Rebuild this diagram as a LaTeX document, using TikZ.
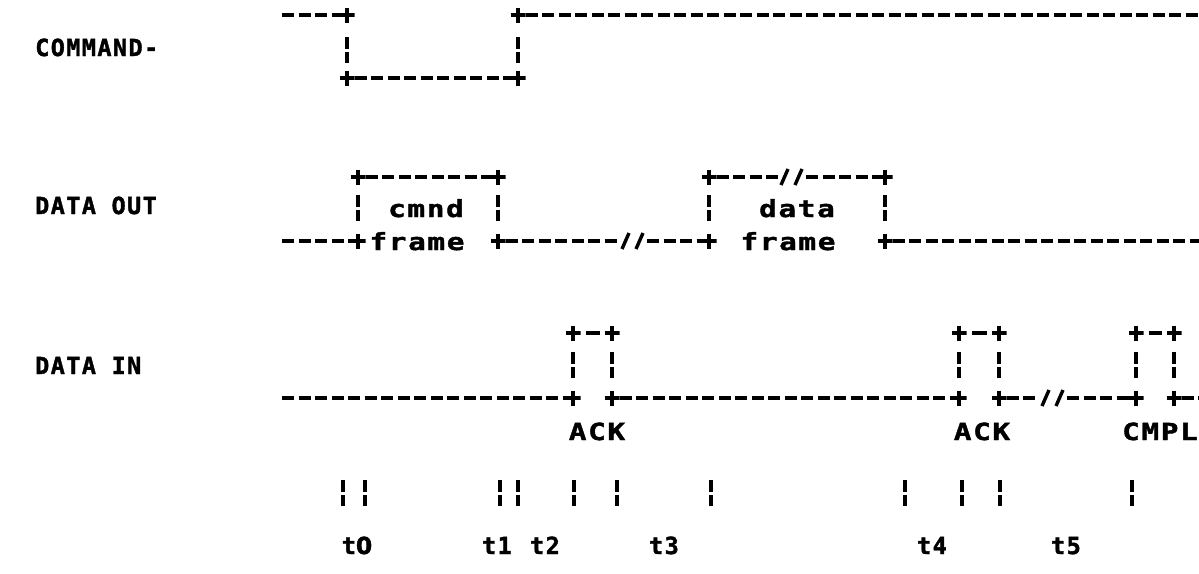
\documentclass[tikz,border=0pt]{standalone}
\usepackage{fontspec}
\newfontfamily\dm[LetterSpace=6, BoldFeatures={FakeBold=1.6}]{DejaVu Sans Mono}
\newfontfamily\dw[LetterSpace=7, BoldFeatures={FakeBold=1.6, FakeStretch=1.25}]{DejaVu Sans Mono}
\newfontfamily\dz[BoldFeatures={FakeBold=1.6}]{DejaVu Sans}
\begin{document}
\begin{tikzpicture}[x=1pt,y=-1pt,
  lbl/.style={inner sep=0pt, font=\dm\bfseries\fontsize{23.5}{23.5}\selectfont},
  wide/.style={inner sep=0pt, font=\dw\bfseries\fontsize{23.5}{23.5}\selectfont},
  sig/.style={line width=3.3pt, dash pattern=on 12pt off 4.5pt},
  link/.style={line width=3.3pt, shorten <=5pt, shorten >=5pt},
  cross/.style={minimum size=15pt, inner sep=0pt, outer sep=0pt,
    path picture={\draw[line width=4.2pt] (path picture bounding box.west) -- (path picture bounding box.east)
      (path picture bounding box.north) -- (path picture bounding box.south);}},
  brk/.style={minimum width=4pt, minimum height=26pt, inner sep=0pt,
    path picture={\fill (path picture bounding box.north west) rectangle ([yshift=-12pt]path picture bounding box.north east);
      \fill ([yshift=11pt]path picture bounding box.south west) rectangle (path picture bounding box.south east);}},
  slash/.style={minimum width=28pt, minimum height=22pt, inner sep=0pt,
    path picture={\draw[line width=3.4pt] ([xshift=-11pt,yshift=-8pt]path picture bounding box.center) -- ([xshift=-4pt,yshift=8pt]path picture bounding box.center)
      ([xshift=3pt,yshift=-8pt]path picture bounding box.center) -- ([xshift=10pt,yshift=8pt]path picture bounding box.center);}}
]
\fill[white] (0,0) rectangle (1199,573);
\useasboundingbox (0,0) rectangle (1199,573);

% signal names
\node[lbl, anchor=base west] (lcmd) at (35,56) {COMMAND-};
\node[lbl, anchor=base west] (lout) at (35,214) {DATA OUT};
\node[lbl, anchor=base west] (lin) at (35,374) {DATA IN};

% ---------- COMMAND- ----------
\coordinate (cs) at (282,15);
\coordinate (ce) at (1199,15);
\node[cross] (a1) at (347,15) {};
\node[cross] (a2) at (347,78) {};
\node[cross] (a3) at (518,78) {};
\node[cross] (a4) at (518,15) {};
\node[brk] (ab1) at (347,50) {};
\node[brk] (ab2) at (518,50) {};
\draw[sig] (cs) -- (a1);
\draw[sig] (a2) -- (a3);
\draw[sig] (a4) -- (ce);

% ---------- DATA OUT ----------
\coordinate (ds) at (282,241);
\coordinate (de) at (1199,241);
\node[cross] (b1) at (358,241) {};
\node[cross] (b2) at (358,177) {};
\node[cross] (b3) at (498,177) {};
\node[cross] (b4) at (498,241) {};
\node[cross] (b5) at (709,241) {};
\node[cross] (b6) at (709,177) {};
\node[cross] (b7) at (885,177) {};
\node[cross] (b8) at (885,241) {};
\node[brk] (bb1) at (358,208) {};
\node[brk] (bb2) at (498,208) {};
\node[brk] (bb3) at (709,208) {};
\node[brk] (bb4) at (885,208) {};
\node[slash] (s1) at (633,241) {};
\node[slash] (s2) at (792,177) {};
\draw[sig] (ds) -- (b1);
\draw[sig] (b2) -- (b3);
\draw[sig] (b4) -- (s1);
\draw[sig] (s1) -- (b5);
\draw[sig] (b6) -- (s2);
\draw[sig] (s2) -- (b7);
\draw[sig] (b8) -- (de);
\node[wide, anchor=base] (cmnd) at (426,217) {cmnd};
\node[wide, anchor=base] (fr1) at (417,250) {frame};
\node[wide, anchor=base] (data) at (797,217) {data};
\node[wide, anchor=base] (fr2) at (788,250) {frame};

% ---------- DATA IN ----------
\coordinate (is) at (282,398);
\coordinate (ie) at (1199,398);
\node[cross] (c1) at (573,398) {};
\node[cross] (c2) at (573,333) {};
\node[cross] (c3) at (612,333) {};
\node[cross] (c4) at (612,398) {};
\node[cross] (c5) at (959,398) {};
\node[cross] (c6) at (959,333) {};
\node[cross] (c7) at (999,333) {};
\node[cross] (c8) at (999,398) {};
\node[cross] (c9) at (1136,398) {};
\node[cross] (c10) at (1136,333) {};
\node[cross] (c11) at (1174,333) {};
\node[cross] (c12) at (1174,398) {};
\foreach \n/\x in {cb1/573,cb2/612,cb3/959,cb4/999,cb5/1136,cb6/1174}
  \node[brk] (\n) at (\x,365) {};
\node[slash] (s3) at (1053,398) {};
\draw[sig] (is) -- (c1);
\draw[link] (c2) -- (c3);
\draw[sig] (c4) -- (c5);
\draw[link] (c6) -- (c7);
\draw[sig] (c8) -- (s3);
\draw[sig] (s3) -- (c9);
\draw[link] (c10) -- (c11);
\draw[sig] (c12) -- (ie);
\node[wide, anchor=base] (ack1) at (597,440) {ACK};
\node[wide, anchor=base] (ack2) at (982,440) {ACK};
\node[wide, anchor=base] (cmpl) at (1160,440) {CMPL};

% ---------- time marks ----------
\foreach \n/\x in {k1/343,k2/365,k3/500,k4/518,k5/574,k6/617,k7/711,k8/905,k9/962,k10/1000,k11/1132}
  \node[brk] (\n) at (\x,493) {};
\node[lbl, anchor=base] (t0) at (357,554) {t{\dz\bfseries 0}};
\node[lbl, anchor=base] (t1) at (497,554) {t1};
\node[lbl, anchor=base] (t2) at (545,554) {t2};
\node[lbl, anchor=base] (t3) at (664,554) {t3};
\node[lbl, anchor=base] (t4) at (932,554) {t4};
\node[lbl, anchor=base] (t5) at (1066,554) {t5};
\end{tikzpicture}
\end{document}
